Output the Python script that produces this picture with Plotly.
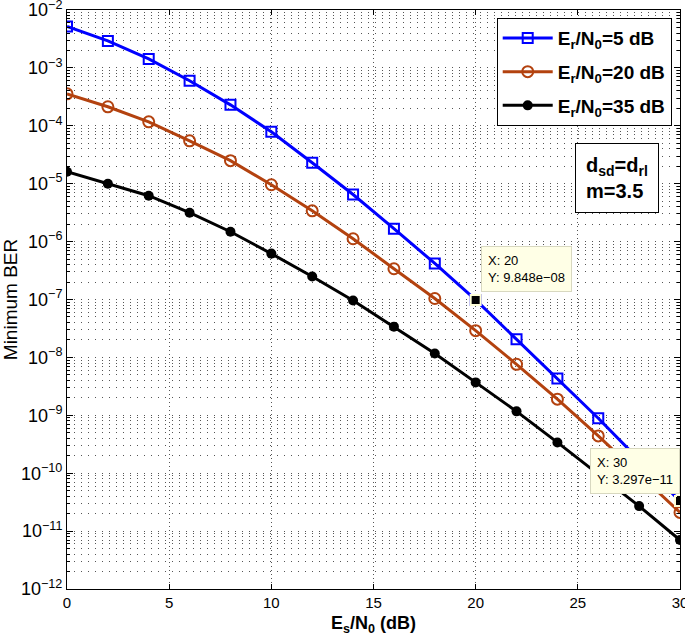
import numpy as np
import plotly.graph_objects as go

es_n0 = [0, 2, 4, 6, 8, 10, 12, 14, 16, 18, 20, 22, 24, 26, 28, 30]
ber_er5 = [5.2e-3, 2.92e-3, 1.43e-3, 6.0e-4, 2.3e-4, 7.9e-5, 2.3e-5, 6.5e-6, 1.67e-6,
           4.2e-7, 9.848e-8, 2.05e-8, 4.3e-9, 8.9e-10, 1.7e-10, 3.297e-11]
ber_er20 = [3.56e-4, 2.13e-4, 1.17e-4, 5.5e-5, 2.5e-5, 9.6e-6, 3.4e-6, 1.12e-6, 3.4e-7,
            1.04e-7, 2.9e-8, 7.6e-9, 1.9e-9, 4.4e-10, 9.6e-11, 2.1e-11]
ber_er35 = [1.61e-5, 1.0e-5, 6.2e-6, 3.16e-6, 1.48e-6, 6.2e-7, 2.5e-7, 9.6e-8, 3.4e-8,
            1.17e-8, 3.7e-9, 1.17e-9, 3.4e-10, 9.6e-11, 2.7e-11, 7.0e-12]
series_names = ["E<sub>r</sub>/N<sub>0</sub>=5 dB", "E<sub>r</sub>/N<sub>0</sub>=20 dB",
                "E<sub>r</sub>/N<sub>0</sub>=35 dB"]
y_tick_vals = [10.0 ** e for e in range(-12, -1)]
y_tick_text = ["10<sup>\u2212%d</sup>" % (-e) for e in range(-12, -1)]
x_tick_vals = [0, 5, 10, 15, 20, 25, 30]
tip_x = [20, 30]
tip_y = [9.848e-8, 3.297e-11]
tip_text = ["X: 20<br>Y: 9.848e\u221208", "X: 30<br>Y: 3.297e\u221211"]

FONT = "Liberation Sans, Arial, Helvetica, sans-serif"
GRID = "#555555"

fig = go.Figure()
fig.add_trace(go.Scatter(x=es_n0, y=ber_er5, mode="lines+markers", name=series_names[0],
                         legendgroup="a",
                         line=dict(color="#0000ff", width=3),
                         marker=dict(symbol="square-open", size=10, color="#0000ff",
                                     line=dict(width=2, color="#0000ff"))))
fig.add_trace(go.Scatter(x=es_n0, y=ber_er20, mode="lines+markers", name=series_names[1],
                         legendgroup="b",
                         line=dict(color="#b3420f", width=3),
                         marker=dict(symbol="circle-open", size=11, color="#b3420f",
                                     line=dict(width=2, color="#b3420f"))))
fig.add_trace(go.Scatter(x=es_n0, y=ber_er35, mode="lines+markers", name=series_names[2],
                         legendgroup="c",
                         line=dict(color="#000000", width=3),
                         marker=dict(symbol="circle", size=10, color="#000000")))
fig.add_trace(go.Scatter(x=tip_x, y=tip_y, mode="markers", showlegend=False,
                         marker=dict(symbol="square", size=10, color="black",
                                     line=dict(width=2, color="#ffffd8"))))

for tx, ty, tt, xa, xs, ys in zip(tip_x, tip_y, tip_text, ["left", "right"], [5, 0], [8, 7]):
    fig.add_annotation(x=tx, y=np.log10(ty), xref="x", yref="y", text=tt, showarrow=False,
                       xanchor=xa, yanchor="bottom", xshift=xs, yshift=ys, align="left",
                       bgcolor="#ffffe6", bordercolor="#d8d8c0", borderwidth=1, borderpad=6,
                       font=dict(family=FONT, size=13, color="black"))

fig.add_annotation(x=0.829, y=0.770, xref="paper", yref="paper",
                   text="<b>d<sub>sd</sub>=d<sub>rl</sub></b><br><b>m=3.5</b>",
                   showarrow=False, xanchor="left", yanchor="top", align="left",
                   bgcolor="white", bordercolor="black", borderwidth=1, borderpad=10,
                   font=dict(family=FONT, size=20, color="black"))

fig.update_layout(
    width=685, height=639,
    margin=dict(l=67, r=5, t=10, b=50),
    paper_bgcolor="white", plot_bgcolor="white",
    font=dict(family=FONT, size=15, color="black"),
    legend=dict(x=0.701, y=0.986, xanchor="left", yanchor="top",
                bgcolor="white", bordercolor="black", borderwidth=1,
                font=dict(family=FONT, size=19, color="black", weight="bold"),
                itemwidth=50, tracegroupgap=6),
    showlegend=True,
)
fig.update_xaxes(range=[0, 30], tickvals=x_tick_vals, showline=True, linecolor="black",
                 linewidth=1, mirror="ticks", ticks="inside", ticklen=5, tickcolor="black",
                 showgrid=True, gridcolor=GRID, griddash="1px,3px", gridwidth=1, zeroline=False,
                 ticklabeloverflow="allow", automargin=False,
                 title=dict(text="<b>E<sub>s</sub>/N<sub>0</sub> (dB)</b>", font=dict(size=18),
                            standoff=6),
                 tickfont=dict(size=15))
fig.update_yaxes(type="log", range=[-12, -2], tickvals=y_tick_vals, ticktext=y_tick_text,
                 showline=True, linecolor="black", linewidth=1, mirror="ticks",
                 ticks="inside", ticklen=6, tickcolor="black",
                 showgrid=True, gridcolor=GRID, griddash="1px,6px", gridwidth=1, zeroline=False,
                 ticklabeloverflow="allow", automargin=False,
                 minor=dict(dtick="D1", showgrid=True, gridcolor=GRID, griddash="1px,6px",
                            gridwidth=1, ticks="inside", ticklen=3, tickcolor="black"),
                 title=dict(text="Minimum BER", font=dict(size=19), standoff=4),
                 tickfont=dict(size=18))

fig.write_html("out.html", config={"displayModeBar": False},
               post_script="document.body.style.margin='0';")
